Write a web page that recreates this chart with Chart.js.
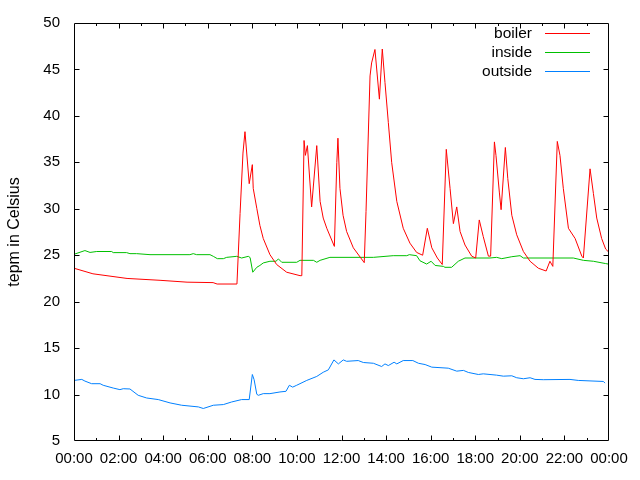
<!DOCTYPE html>
<html>
<head>
<meta charset="utf-8">
<script src="https://cdn.jsdelivr.net/npm/chart.js@4/dist/chart.umd.min.js"></script>
<style>
html,body{margin:0;padding:0;background:#fff;}
#wrap{width:640px;height:480px;}
</style>
</head>
<body>
<div id="wrap"><canvas id="c" width="640" height="480"></canvas></div>
<script>
// ---- data (hours since 00:00, temperature in Celsius) ----
const boilerTimes = [0,0.85,2.38,3.86,5.07,6.24,6.42,7.31,7.45,7.58,7.67,7.86,8.0,8.04,8.2,8.34,8.49,8.79,9.09,9.54,10.14,10.22,10.32,10.38,10.47,10.66,10.89,11.04,11.18,11.34,11.68,11.79,11.84,11.93,12.07,12.23,12.53,13.02,13.1,13.28,13.35,13.5,13.7,13.83,13.95,14.1,14.25,14.48,14.77,15.07,15.37,15.64,15.85,16.05,16.3,16.52,16.7,16.87,17.02,17.17,17.32,17.54,17.84,18.02,18.18,18.36,18.59,18.69,18.86,18.93,19.08,19.16,19.35,19.46,19.64,19.86,20.16,20.46,20.83,21.18,21.35,21.48,21.68,21.8,21.95,22.18,22.48,22.78,22.85,23.15,23.3,23.45,23.67,23.85,23.96];
const boilerTemps = [23.6,23.0,22.5,22.3,22.1,22.05,21.9,21.9,29.5,36.0,38.3,32.7,34.75,32.2,30.05,28.2,26.8,25.06,24.0,23.17,22.8,22.8,37.35,35.75,36.8,30.2,36.8,30.8,29.0,27.9,25.95,35.0,37.6,32.2,29.3,27.55,25.8,24.2,29.7,44.3,45.7,47.15,41.8,47.2,43.6,39.3,35.0,30.8,27.9,26.3,25.3,25.0,27.9,25.8,24.7,24.0,36.4,32.2,28.4,30.2,27.55,26.1,24.9,24.7,28.8,27.0,24.9,24.9,37.2,35.75,31.8,29.9,36.6,33.25,29.3,27.2,25.4,24.35,23.6,23.3,24.35,23.8,37.25,35.75,32.2,27.9,26.8,24.9,24.7,34.3,31.65,29.0,26.8,25.66,25.4];

const insideTimes = [0,0.49,0.72,1.02,1.69,1.76,2.36,2.51,2.81,3.41,5.2,5.35,5.5,6.1,6.25,6.43,6.7,6.85,7.3,7.52,7.82,7.9,8.02,8.2,8.34,8.49,8.79,9.06,9.17,9.32,9.99,10.14,10.74,10.89,11.04,11.48,12.83,13.43,14.32,14.93,15.04,15.37,15.52,15.82,16.02,16.2,16.57,16.64,16.94,17.24,17.54,18.66,18.96,19.19,19.64,20.01,20.16,22.4,22.85,23.3,23.85,23.96];
const insideTemps = [25.1,25.5,25.3,25.4,25.4,25.28,25.28,25.17,25.17,25.06,25.06,25.17,25.06,25.06,24.88,24.63,24.63,24.77,24.88,24.7,24.88,24.75,23.17,23.7,23.9,24.17,24.35,24.35,24.6,24.24,24.24,24.45,24.45,24.24,24.45,24.77,24.77,24.77,24.95,24.95,25.06,24.95,24.4,24.05,24.35,23.9,23.8,23.7,23.7,24.35,24.7,24.7,24.77,24.63,24.84,24.95,24.7,24.7,24.45,24.35,24.1,24.05];

const outsideTimes = [0,0.35,0.49,0.79,1.17,1.31,1.76,2.06,2.21,2.51,2.88,3.26,3.78,4.31,4.83,5.58,5.8,6.25,6.7,7.07,7.52,7.86,8.0,8.08,8.2,8.27,8.49,8.79,9.24,9.51,9.66,9.81,9.99,10.44,10.89,11.18,11.41,11.66,11.86,12.08,12.23,12.75,12.98,13.43,13.8,13.95,14.1,14.36,14.48,14.77,15.2,15.45,15.75,16.05,16.79,17.17,17.47,17.69,18.14,18.36,18.96,19.26,19.64,19.86,20.16,20.46,20.68,21.05,22.25,22.62,23.75,23.82];
const outsideTemps = [11.52,11.63,11.45,11.17,11.17,11.0,10.7,10.53,10.63,10.6,9.92,9.63,9.46,9.1,8.85,8.67,8.5,8.85,8.92,9.2,9.46,9.46,12.16,11.6,10.03,9.92,10.1,10.1,10.28,10.35,11.0,10.8,11.0,11.52,11.95,12.4,12.66,13.73,13.3,13.73,13.58,13.66,13.45,13.37,13.02,13.3,13.12,13.48,13.3,13.66,13.66,13.37,13.23,12.95,12.84,12.52,12.6,12.38,12.16,12.23,12.09,11.98,12.02,11.81,11.7,11.81,11.63,11.6,11.63,11.52,11.41,11.23];

const seriesLabels = ['boiler','inside','outside'];
const seriesColors = ['#ff0000','#00c000','#0080ff'];
const yTitle = 'tepm in Celsius';
const xMin = 0, xMax = 24, xStep = 2;
const yMin = 5, yMax = 50, yStep = 5;

const FONT = 'Liberation Sans, Arial, sans-serif';

function pts(t, v){ return t.map((x,i)=>({x:x, y:v[i]})); }
function hourLabel(v){ const h = Math.round(v) % 24; return (h<10?'0':'') + h + ':00'; }

const frame = {
  id:'frame',
  afterDatasetsDraw(chart){
    const ctx = chart.ctx, a = chart.chartArea;
    const xs = chart.scales.x, ys = chart.scales.y;
    const L = a.left + 0.5, R = a.right - 0.5, T = a.top + 0.5, B = a.bottom - 0.5;
    ctx.save();
    ctx.strokeStyle = '#000'; ctx.lineWidth = 1;
    ctx.beginPath();
    ctx.rect(L, T, R-L, B-T);
    for (let h = xMin + 1; h < xMax; h++){
      const px = Math.round(xs.getPixelForValue(h)) + 0.5;
      const len = (h % 2 === 0) ? 5 : 2.5;
      ctx.moveTo(px, B); ctx.lineTo(px, B - len);
      ctx.moveTo(px, T); ctx.lineTo(px, T + len);
    }
    for (let v = yMin + yStep; v < yMax; v += yStep){
      const py = Math.round(ys.getPixelForValue(v)) + 0.5;
      ctx.moveTo(L, py); ctx.lineTo(L + 5, py);
      ctx.moveTo(R, py); ctx.lineTo(R - 5, py);
    }
    ctx.stroke();
    ctx.font = '15.5px ' + FONT;
    ctx.textAlign = 'right'; ctx.textBaseline = 'middle';
    chart.data.datasets.forEach((ds, i) => {
      const y = 33.5 + i * 19;
      ctx.fillStyle = '#000';
      ctx.fillText(ds.label, 532, y);
      ctx.strokeStyle = ds.borderColor;
      ctx.beginPath(); ctx.moveTo(545, y); ctx.lineTo(590, y); ctx.stroke();
    });
    ctx.restore();
  }
};

new Chart(document.getElementById('c'), {
  type: 'line',
  data: {
    datasets: [
      {label: seriesLabels[0], data: pts(boilerTimes, boilerTemps), borderColor: seriesColors[0]},
      {label: seriesLabels[1], data: pts(insideTimes, insideTemps), borderColor: seriesColors[1]},
      {label: seriesLabels[2], data: pts(outsideTimes, outsideTemps), borderColor: seriesColors[2]}
    ].map(d => Object.assign(d, {borderWidth:1, pointRadius:0, tension:0, fill:false}))
  },
  options: {
    responsive: false,
    animation: false,
    layout: {padding: {top:20, right:31, left:0, bottom:0}},
    plugins: {legend:{display:false}, tooltip:{enabled:false}},
    scales: {
      x: {
        type: 'linear', min: xMin, max: xMax,
        grid: {display:false, drawTicks:false},
        border: {display:false},
        ticks: {stepSize: xStep, autoSkip:false, maxRotation:0, padding:9, color:'#000',
                font:{family:FONT, size:15}, callback: v => hourLabel(v)},
        afterFit: s => { s.height = 39; }
      },
      y: {
        min: yMin, max: yMax,
        grid: {display:false, drawTicks:false},
        border: {display:false},
        ticks: {stepSize: yStep, padding:14, color:'#000', font:{family:FONT, size:15}},
        title: {display:true, text: yTitle, color:'#000', font:{family:FONT, size:16}, padding:{top:5, bottom:0}},
        afterFit: s => { s.width = 74; }
      }
    }
  },
  plugins: [frame]
});
</script>
</body>
</html>
